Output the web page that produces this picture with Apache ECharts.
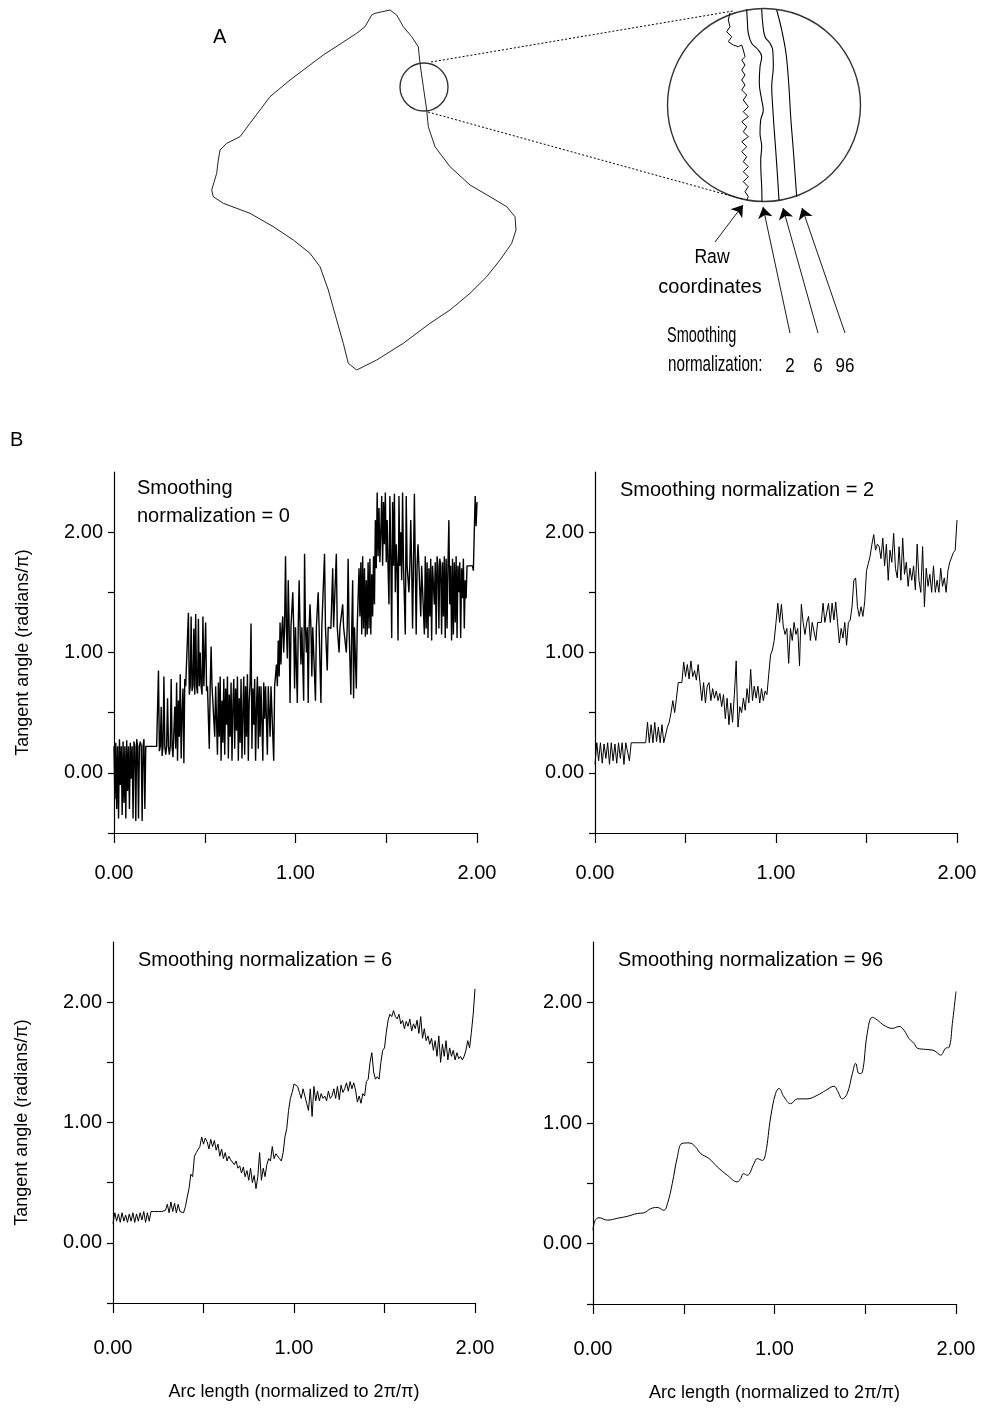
<!DOCTYPE html>
<html>
<head>
<meta charset="utf-8">
<script src="https://cdn.jsdelivr.net/npm/echarts@6/dist/echarts.min.js"></script>
<style>
  html, body { margin: 0; background: #fff; }
  #chart { width: 982px; height: 1409px; }
</style>
</head>
<body>
<div id="chart"></div>
<script>
// ---- Panel A: cell outline and magnified boundary (diagram units) ----
const cellX = [375,390,396.7,403.3,411.7,418.3,420,423.3,426.7,428.3,435,450,470,490,506.7,515,516,511.7,500,486.7,470,450,430,403.3,376.7,356.7,348.3,343.3,336.7,328.3,320,310,293.3,273.3,250,223.3,213.3,211.7,216.7,218.3,220,226.7,240,250,270,290,323.3,356.7,365,371.7];
const cellY = [13.3,10,15,26.7,36.7,46.7,63.3,86.7,110,126.7,146.7,166.7,185,196.7,206.7,216.7,230,243.3,260,276.7,293.3,310,323.3,343.3,360,370,363.3,343.3,320,290,266.7,253.3,240,226.7,213.3,203.3,196.7,190,173.3,160,150,143.3,136.7,123.3,96.7,80,55,33.3,26.7,15];

const rawX = [730,728.3,730,726.7,731.7,728.3,733.3,735,738.3,741.7,743.3,745,741.7,745,741.7,745,741.7,745,741.7,746.7,743.3,748.3,743.3,748.3,741.7,746.7,743.3,748.3,741.7,746.7,741.7,746.7,743.3,748.3,743.3,748.3,743.3,748.3,745,748.3,746.7];
const rawY = [12.7,20,26.7,31.7,36.7,41.7,45,43.3,46.7,45,50,56.7,60,65,70,75,80,85,90,95,100,106.7,111.7,116.7,121.7,126.7,131.7,136.7,141.7,146.7,151.7,156.7,161.7,166.7,171.7,176.7,181.7,186.7,191.7,196.7,200];
const sm2X = [746.7,747.3,748.3,751.7,758.3,761.7,760,759.3,761.7,763.3,760.7,760,761.7,760.7,761,761.7,762];
const sm2Y = [9.3,20,33.3,43.3,50,56.7,66.7,83.3,100,110,120,133.3,146.7,160,173.3,186.7,201.7];
const sm6X = [761.7,762.7,765,770,772.7,773.3,771.7,772.7,774,775.7,777.3,779];
const sm6Y = [9.3,23.3,36.7,43.3,50,66.7,86.7,106.7,126.7,150,173.3,200];
const sm96X = [776.7,781.7,786,788.7,790.7,793.3,796.7];
const sm96Y = [10,30,53.3,83.3,116.7,150,196.7];

const zoomCircles = [[424, 87, 48], [764, 105, 193]]; // centre x, centre y, diameter
const guideLines = [[[431, 62], [733, 11]], [[428, 112], [742, 199]]];
const arrows = [[[715, 242], [743, 205]], [[790, 333], [763, 207]], [[818, 333], [783, 208]], [[845, 333], [802, 208]]];

// ---- Panel B: tangent angle (radians/pi) vs arc length ----
// smoothing 0, sampled every 0.005
const angle0 = [
  0.22,-0.22,0.25,-0.3,0.22,-0.38,0.28,-0.1,0.22,-0.35,0.26,-0.25,0.22,-0.38,0.27,-0.15,0.22,-0.3,0.25,-0.05,
  0.22,-0.38,0.26,0.22,-0.4,0.28,0.22,-0.38,0.22,0.26,0.22,-0.4,0.22,0.28,-0.3,0.22,0.22,0.22,0.22,0.22,
  0.22,0.22,0.22,0.22,0.22,0.22,0.22,0.22,0.22,0.85,0.18,0.22,0.55,0.14,0.22,0.8,0.22,0.15,0.22,0.62,
  0.22,0.15,0.22,0.78,0.22,0.13,0.35,0.55,0.2,0.75,0.1,0.6,0.3,0.82,0.12,0.5,0.7,0.08,0.78,0.72,
  0.72,0.72,1.33,0.65,0.72,1.3,0.68,0.72,1.2,0.65,1.32,0.72,0.66,1.28,0.72,1.0,0.72,0.65,1.3,0.72,
  0.72,1.25,0.68,0.72,0.72,0.2,0.72,1.05,0.72,0.72,0.72,0.3,0.72,0.72,0.15,0.75,0.3,0.8,0.1,0.6,
  0.25,0.78,0.15,0.7,0.4,0.8,0.12,0.65,0.3,0.75,0.1,0.55,0.78,0.2,0.7,0.35,0.8,0.1,0.62,0.25,
  0.78,0.12,0.5,0.8,0.15,0.72,0.3,0.82,0.1,0.6,0.75,1.24,0.2,0.7,0.4,0.78,0.1,0.55,0.8,0.2,
  0.72,0.3,0.72,0.72,0.1,0.75,0.45,0.72,0.72,0.15,0.72,0.72,0.3,0.72,0.72,0.72,0.1,0.72,0.72,0.9,
  0.72,1.1,0.8,1.25,0.9,1.2,1.3,1.0,1.21,1.8,1.21,0.95,1.6,1.21,0.58,1.21,1.21,1.5,1.21,0.7,
  1.21,1.21,0.58,1.21,1.6,1.21,0.9,1.21,1.21,0.6,1.82,1.21,1.0,1.21,0.58,1.21,1.4,1.21,0.8,1.21,
  1.21,1.21,0.6,1.21,1.21,1.5,1.21,1.21,0.58,1.21,1.21,1.21,1.82,1.21,1.21,0.85,1.21,1.21,1.21,1.2,
  1.21,1.7,1.21,1.21,1.21,1.82,1.21,1.21,1.0,1.21,1.21,1.21,1.4,1.21,1.21,1.21,1.0,1.21,1.78,1.21,
  1.21,0.65,1.21,1.6,0.62,1.21,1.21,0.7,1.21,1.21,1.7,1.3,1.75,1.15,1.8,1.2,1.7,1.13,1.6,1.15,
  1.75,1.2,1.78,1.15,1.65,1.3,1.8,1.4,2.1,1.7,2.33,1.8,2.2,1.75,2.0,2.3,1.72,2.25,1.9,2.33,
  1.75,2.1,1.7,1.4,2.3,1.8,1.12,2.25,1.72,2.32,1.5,1.9,1.72,1.1,2.3,1.72,2.0,1.6,2.33,1.72,
  1.72,1.15,2.3,1.72,1.72,1.5,1.72,2.1,1.72,1.2,1.72,2.32,1.72,1.15,1.72,1.9,1.72,1.72,1.3,1.72,
  1.72,1.72,1.15,1.8,1.2,1.75,1.12,1.7,1.3,1.78,1.1,1.72,1.72,1.4,1.75,1.15,1.8,1.72,1.2,1.78,
  1.72,1.15,1.75,1.3,1.8,1.12,1.78,1.2,1.72,2.1,1.4,1.72,1.1,1.78,1.15,1.75,1.25,1.8,1.12,1.72,
  1.5,1.75,1.12,1.7,1.45,1.78,1.2,1.6,1.45,1.72,1.72,1.72,1.72,1.72,1.72,1.72,1.68,2.0,2.3,2.05,
  2.25
];
// smoothing 2, sampled every 0.01
const angle2 = [
  0.07,0.25,0.1,0.25,0.08,0.24,0.12,0.25,0.07,0.25,
  0.1,0.24,0.08,0.25,0.12,0.25,0.07,0.25,0.25,0.1,
  0.25,0.25,0.25,0.25,0.25,0.25,0.25,0.25,0.25,0.42,
  0.25,0.4,0.25,0.42,0.26,0.38,0.25,0.4,0.25,0.25,
  0.38,0.42,0.5,0.6,0.5,0.62,0.75,0.75,0.75,0.92,
  0.8,0.9,0.78,0.93,0.8,0.85,0.77,0.9,0.75,0.6,
  0.75,0.58,0.72,0.75,0.6,0.7,0.62,0.68,0.6,0.66,
  0.55,0.65,0.45,0.62,0.4,0.58,0.42,0.65,0.93,0.38,
  0.55,0.5,0.62,0.52,0.7,0.58,0.86,0.6,0.72,0.62,
  0.72,0.58,0.7,0.6,0.68,0.65,0.82,0.98,1.02,1.1,
  1.25,1.41,1.25,1.4,1.22,1.15,1.2,0.91,1.2,1.1,
  1.25,1.15,1.2,0.89,1.4,1.25,1.15,1.25,1.3,1.1,
  1.25,1.25,1.1,1.25,1.25,1.25,1.41,1.25,1.25,1.41,
  1.25,1.41,1.27,1.42,1.25,1.08,1.2,1.12,1.25,1.06,
  1.25,1.27,1.38,1.6,1.62,1.38,1.3,1.38,1.3,1.42,
  1.68,1.74,1.8,1.9,1.98,1.85,1.9,1.88,1.78,1.95,
  1.72,1.9,1.6,1.85,1.75,1.99,1.7,1.62,1.88,1.6,
  1.95,1.65,1.75,1.55,1.7,1.6,1.72,1.52,1.9,1.6,
  1.5,1.88,1.38,1.7,1.55,1.65,1.5,1.72,1.5,1.6,
  1.5,1.7,1.55,1.62,1.5,1.68,1.75,1.74,1.83,1.85,
  2.1
];
// smoothing 6, sampled every 0.01
const angle6 = [
  0.16,0.25,0.18,0.24,0.17,0.25,0.18,0.23,0.17,0.24,
  0.18,0.25,0.17,0.24,0.18,0.25,0.19,0.26,0.17,0.25,
  0.18,0.26,0.26,0.26,0.26,0.26,0.26,0.26,0.26,0.27,
  0.32,0.25,0.34,0.26,0.33,0.25,0.32,0.26,0.25,0.25,
  0.3,0.38,0.45,0.57,0.55,0.72,0.75,0.76,0.8,0.88,
  0.82,0.87,0.84,0.78,0.86,0.8,0.85,0.77,0.82,0.72,
  0.78,0.7,0.75,0.68,0.72,0.69,0.7,0.65,0.68,0.62,
  0.64,0.58,0.63,0.55,0.6,0.52,0.62,0.5,0.56,0.45,
  0.55,0.75,0.52,0.62,0.55,0.65,0.7,0.68,0.8,0.7,
  0.74,0.72,0.7,0.68,0.75,0.88,0.95,1.1,1.2,1.25,
  1.32,1.33,1.3,1.25,1.2,1.28,1.22,1.16,1.1,1.28,
  1.05,1.3,1.18,1.26,1.18,1.24,1.2,1.22,1.18,1.26,
  1.2,1.22,1.28,1.2,1.3,1.19,1.31,1.25,1.28,1.33,
  1.26,1.34,1.28,1.33,1.27,1.17,1.22,1.16,1.24,1.22,
  1.34,1.36,1.5,1.58,1.42,1.36,1.38,1.36,1.5,1.6,
  1.62,1.75,1.85,1.9,1.88,1.93,1.88,1.86,1.9,1.82,
  1.85,1.78,1.84,1.8,1.86,1.76,1.82,1.78,1.85,1.74,
  1.88,1.7,1.78,1.68,1.72,1.65,1.7,1.6,1.68,1.55,
  1.72,1.5,1.65,1.55,1.68,1.52,1.62,1.55,1.6,1.52,
  1.58,1.53,1.55,1.52,1.55,1.6,1.68,1.62,1.75,1.9,
  2.11
];
// smoothing 96, read at irregular arc positions
const arc96 = [0,0.011,0.033,0.08,0.134,0.19,0.244,0.28,0.318,0.354,0.39,0.41,0.437,0.465,0.49,0.53,0.566,0.593,0.64,0.685,0.74,0.795,0.814,0.828,0.85,0.887,0.905,0.933,0.951,0.979,1.006,1.025,1.052,1.089,1.126,1.18,1.236,1.282,1.328,1.346,1.374,1.401,1.429,1.447,1.466,1.484,1.511,1.539,1.567,1.603,1.649,1.686,1.713,1.741,1.769,1.787,1.833,1.879,1.916,1.943,1.962,1.98,2.0];
const angle96 = [0.11,0.19,0.215,0.195,0.21,0.227,0.25,0.255,0.29,0.30,0.277,0.33,0.5,0.72,0.83,0.835,0.80,0.747,0.705,0.636,0.567,0.512,0.54,0.58,0.567,0.664,0.705,0.69,0.747,1.05,1.245,1.286,1.217,1.16,1.20,1.20,1.23,1.27,1.305,1.27,1.20,1.245,1.41,1.494,1.41,1.42,1.743,1.876,1.853,1.81,1.784,1.80,1.77,1.70,1.66,1.62,1.61,1.60,1.563,1.62,1.627,1.826,2.09];

const xTicks = [0, 0.5, 1, 1.5, 2];
const xTickLabels = [0, 1, 2];
const yTicks = [-0.5, 0, 0.5, 1, 1.5, 2];
const yTickLabels = [0, 1, 2];
const titles = ["Smoothing\nnormalization = 0", "Smoothing normalization = 2", "Smoothing normalization = 6", "Smoothing normalization = 96"];

const font = "'Liberation Sans', Arial, Helvetica, sans-serif";

const zip = (xs, ys) => xs.map((x, i) => [x, ys[i]]);
const sampled = (vals, step) => vals.map((v, i) => [+(i * step).toFixed(4), v]);

const chart = echarts.init(document.getElementById("chart"), null, { renderer: "canvas" });

const plotGrids = [
  { left: 114, top: 472, width: 363, height: 361 },
  { left: 595, top: 472, width: 362, height: 361 },
  { left: 113, top: 942, width: 362, height: 361 },
  { left: 593, top: 942, width: 363, height: 362 },
];

const axisColor = { color: "#000", width: 1.2 };

const xAxes = [{ gridIndex: 0, type: "value", min: 0, max: 982, show: false }];
const yAxes = [{ gridIndex: 0, type: "value", min: 0, max: 400, inverse: true, show: false }];

plotGrids.forEach((g, k) => {
  const gi = k + 1;
  const bottomRow = k >= 2;
  xAxes.push({
    gridIndex: gi, type: "value", min: 0, max: 2,
    axisLine: { onZero: false, lineStyle: axisColor },
    axisTick: { customValues: xTicks, length: 10, lineStyle: axisColor },
    axisLabel: {
      customValues: xTickLabels, formatter: (v) => v.toFixed(2),
      margin: bottomRow ? 35 : 30, color: "#000", fontSize: 20, fontFamily: font,
    },
    splitLine: { show: false },
    name: bottomRow ? "Arc length (normalized to 2\u03c0/\u03c0)" : "",
    nameLocation: "middle", nameGap: 80,
    nameTextStyle: { color: "#000", fontSize: 18, fontFamily: font },
  });
  yAxes.push({
    gridIndex: gi, type: "value", min: -0.5, max: 2.5,
    axisLine: { onZero: false, lineStyle: axisColor },
    axisTick: { customValues: yTicks, length: 6, lineStyle: axisColor },
    axisLabel: {
      customValues: yTickLabels, formatter: (v) => v.toFixed(2),
      margin: 11, color: "#000", fontSize: 20, fontFamily: font,
    },
    splitLine: { show: false },
    name: k % 2 === 0 ? "Tangent angle (radians/\u03c0)" : "",
    nameLocation: "middle", nameGap: 82,
    nameTextStyle: { color: "#000", fontSize: 18, fontFamily: font },
  });
});

const black = (w) => ({ color: "#000", width: w });

const series = [
  // panel A
  { type: "line", xAxisIndex: 0, yAxisIndex: 0, data: zip(cellX.concat(cellX[0]), cellY.concat(cellY[0])),
    showSymbol: false, lineStyle: { color: "#222", width: 1 } },
  { type: "scatter", xAxisIndex: 0, yAxisIndex: 0, data: zoomCircles.map((c) => [c[0], c[1], c[2]]),
    symbol: "circle", symbolSize: (d) => d[2],
    itemStyle: { color: "rgba(0,0,0,0)", borderColor: "#000", borderWidth: 1.4 } },
  ...guideLines.map((l) => ({ type: "line", xAxisIndex: 0, yAxisIndex: 0, data: l, showSymbol: false,
    lineStyle: { color: "#000", width: 1, type: [2, 2] } })),
  { type: "line", xAxisIndex: 0, yAxisIndex: 0, data: zip(rawX, rawY), showSymbol: false, lineStyle: black(1) },
  { type: "line", xAxisIndex: 0, yAxisIndex: 0, data: zip(sm2X, sm2Y), smooth: 0.4, showSymbol: false, lineStyle: black(1.1) },
  { type: "line", xAxisIndex: 0, yAxisIndex: 0, data: zip(sm6X, sm6Y), smooth: 0.4, showSymbol: false, lineStyle: black(1.1) },
  { type: "line", xAxisIndex: 0, yAxisIndex: 0, data: zip(sm96X, sm96Y), smooth: 0.4, showSymbol: false, lineStyle: black(1.1) },
  { type: "lines", coordinateSystem: "cartesian2d", xAxisIndex: 0, yAxisIndex: 0,
    data: arrows.map((a) => ({ coords: a })), symbol: ["none", "arrow"], symbolSize: 11,
    lineStyle: { color: "#000", width: 0.9, opacity: 1 } },
  // panel B
  { type: "line", xAxisIndex: 1, yAxisIndex: 1, data: sampled(angle0, 0.005), showSymbol: false, lineStyle: black(1.4) },
  { type: "line", xAxisIndex: 2, yAxisIndex: 2, data: sampled(angle2, 0.01), showSymbol: false, lineStyle: black(1) },
  { type: "line", xAxisIndex: 3, yAxisIndex: 3, data: sampled(angle6, 0.01), showSymbol: false, lineStyle: black(1) },
  { type: "line", xAxisIndex: 4, yAxisIndex: 4, data: zip(arc96, angle96), smooth: 0.4, showSymbol: false, lineStyle: black(1) },
];

// sx: horizontal squeeze, the panel A lettering is narrower than the plot titles
const txt = (text, x, y, align, sx, size) => ({
  type: "text", x, y, silent: true, scaleX: sx || 1, originX: 0,
  style: { text, fill: "#000", font: `${size || 20}px ${font}`, align: align || "left", verticalAlign: "top", lineHeight: 28 },
});

const graphic = [
  txt("A", 213, 23),
  txt("B", 10, 426),
  txt("Raw", 712, 243, "center", 0.88),
  txt("coordinates", 710, 273, "center", 1.0),
  txt("Smoothing", 667, 322, "left", 0.66, 22),
  txt("normalization:", 668, 351, "left", 0.69, 22),
  txt("2", 790, 352, "center", 0.85),
  txt("6", 818, 352, "center", 0.85),
  txt("96", 845, 352, "center", 0.85),
  txt(titles[0], 137, 474),
  txt(titles[1], 620, 476),
  txt(titles[2], 138, 946),
  txt(titles[3], 618, 946),
];

chart.setOption({
  animation: false,
  backgroundColor: "#fff",
  grid: [{ left: 0, top: 0, width: 982, height: 400, outerBoundsMode: "none" }]
    .concat(plotGrids.map((g) => Object.assign({ outerBoundsMode: "none" }, g))),
  xAxis: xAxes,
  yAxis: yAxes,
  series,
  graphic,
});
</script>
</body>
</html>
